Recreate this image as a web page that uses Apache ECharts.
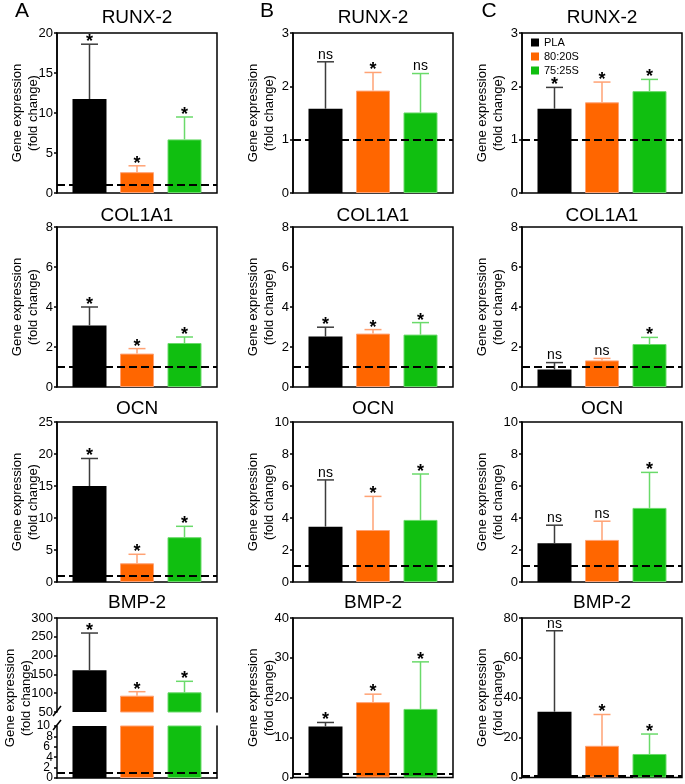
<!DOCTYPE html>
<html>
<head>
<meta charset="utf-8">
<script src="https://cdn.jsdelivr.net/npm/echarts@6/dist/echarts.min.js"></script>
<style>
html, body { margin: 0; padding: 0; background: #fff; }
#chart { width: 685px; height: 784px; }
</style>
</head>
<body>
<div id="chart"></div>
<script>
const groups = ['PLA', '80:20S', '75:25S'];
const barColors = ['#000000', '#ff6600', '#10bf10'];
const errColors = ['#3c3c3c', '#ffa274', '#6ada6a'];
const columnLetters = ['A', 'B', 'C'];

// mean fold change and upper SD, order: PLA, 80:20S, 75:25S
const runx2A = [11.75, 2.6, 6.7];
const runx2ASd = [6.85, 0.8, 2.8];
const runx2B = [1.58, 1.92, 1.51];
const runx2BSd = [0.88, 0.34, 0.73];
const runx2C = [1.58, 1.70, 1.91];
const runx2CSd = [0.40, 0.38, 0.22];

const col1a1A = [3.08, 1.67, 2.2];
const col1a1ASd = [0.92, 0.25, 0.3];
const col1a1B = [2.52, 2.67, 2.62];
const col1a1BSd = [0.47, 0.20, 0.60];
const col1a1C = [0.87, 1.33, 2.15];
const col1a1CSd = [0.35, 0.10, 0.33];

const ocnA = [15.0, 2.92, 7.0];
const ocnASd = [4.3, 1.41, 1.7];
const ocnB = [3.46, 3.25, 3.88];
const ocnBSd = [2.92, 2.10, 2.87];
const ocnC = [2.42, 2.63, 4.63];
const ocnCSd = [1.13, 1.17, 2.22];

const bmp2A = [160.8, 93.4, 102.3];
const bmp2ASd = [99.2, 10.6, 29.3];
const bmp2B = [12.8, 18.9, 17.2];
const bmp2BSd = [1.0, 2.0, 11.8];
const bmp2C = [33.0, 15.9, 11.8];
const bmp2CSd = [40.6, 15.7, 10.0];

// significance marks
const allStar = ['*', '*', '*'];
const runx2BSig = ['ns', '*', 'ns'];
const col1a1CSig = ['ns', 'ns', '*'];
const ocnBSig = ['ns', '*', '*'];
const ocnCSig = ['ns', 'ns', '*'];
const bmp2CSig = ['ns', '*', '*'];

// y axis [min, max, interval]
const runx2AAxis = [0, 20, 5];
const runx2Axis = [0, 3, 1];
const col1a1Axis = [0, 8, 2];
const ocnAAxis = [0, 25, 5];
const ocnAxis = [0, 10, 2];
const bmp2AUpperAxis = [50, 300, 50];
const bmp2ALowerAxis = [0, 10, 2];
const bmp2BAxis = [0, 40, 10];
const bmp2CAxis = [0, 80, 20];
// tick labels of the squeezed lower segment, split in two sets so none overlap
const bmp2ALowerTicksA = [0, 4, 8];
const bmp2ALowerTicksB = [2, 6, 10];

const baseline = 1;
const yName = 'Gene expression\n(fold change)';

const panels = [
    {gene: 'RUNX-2', row: 0, col: 0, mean: runx2A, sd: runx2ASd, sig: allStar, axis: runx2AAxis},
    {gene: 'RUNX-2', row: 0, col: 1, mean: runx2B, sd: runx2BSd, sig: runx2BSig, axis: runx2Axis},
    {gene: 'RUNX-2', row: 0, col: 2, mean: runx2C, sd: runx2CSd, sig: allStar, axis: runx2Axis},
    {gene: 'COL1A1', row: 1, col: 0, mean: col1a1A, sd: col1a1ASd, sig: allStar, axis: col1a1Axis},
    {gene: 'COL1A1', row: 1, col: 1, mean: col1a1B, sd: col1a1BSd, sig: allStar, axis: col1a1Axis},
    {gene: 'COL1A1', row: 1, col: 2, mean: col1a1C, sd: col1a1CSd, sig: col1a1CSig, axis: col1a1Axis},
    {gene: 'OCN', row: 2, col: 0, mean: ocnA, sd: ocnASd, sig: allStar, axis: ocnAAxis},
    {gene: 'OCN', row: 2, col: 1, mean: ocnB, sd: ocnBSd, sig: ocnBSig, axis: ocnAxis},
    {gene: 'OCN', row: 2, col: 2, mean: ocnC, sd: ocnCSd, sig: ocnCSig, axis: ocnAxis},
    {gene: 'BMP-2', row: 3, col: 0, mean: bmp2A, sd: bmp2ASd, sig: allStar, axis: bmp2AUpperAxis, lower: bmp2ALowerAxis},
    {gene: 'BMP-2', row: 3, col: 1, mean: bmp2B, sd: bmp2BSd, sig: allStar, axis: bmp2BAxis},
    {gene: 'BMP-2', row: 3, col: 2, mean: bmp2C, sd: bmp2CSd, sig: bmp2CSig, axis: bmp2CAxis}
];

const font = 'Liberation Sans, Arial, Helvetica, sans-serif';
const colLeft = [57, 293, 522];
const rowTop = [33, 227, 422, 618];
const titleTop = [8, 206, 399, 593];
const plotW = 160, plotH = 160;
const xMin = 0.316, xMax = 3.684;

let option = {
    animation: false,
    textStyle: {fontFamily: font},
    title: [],
    grid: [],
    xAxis: [],
    yAxis: [],
    series: [],
    graphic: [],
    legend: {
        data: groups,
        orient: 'vertical',
        left: 531,
        top: 37,
        padding: 0,
        itemWidth: 8,
        itemHeight: 8,
        itemGap: 3,
        icon: 'rect',
        selectedMode: false,
        itemStyle: {borderWidth: 0},
        textStyle: {fontSize: 11, color: '#000', fontFamily: font}
    }
};

function makeErrRender(sig) {
    return function (params, api) {
        const k = params.dataIndex;
        const x = api.value(0);
        const m = api.value(1);
        const s = api.value(2);
        const p0 = api.coord([x, m]);
        const p1 = api.coord([x, m + s]);
        const st = {stroke: errColors[k], lineWidth: 1.5};
        const isStar = sig[k] === '*';
        return {
            type: 'group',
            children: [
                {type: 'line', shape: {x1: p0[0], y1: p0[1], x2: p1[0], y2: p1[1]}, style: st},
                {type: 'line', shape: {x1: p1[0] - 8.5, y1: p1[1], x2: p1[0] + 8.5, y2: p1[1]}, style: st},
                {
                    type: 'text',
                    x: p1[0],
                    y: p1[1] + (isStar ? 7 : 0),
                    style: {
                        text: sig[k],
                        align: 'center',
                        verticalAlign: 'bottom',
                        font: (isStar ? 'bold 18px ' : '14px ') + font,
                        fill: '#000'
                    }
                }
            ]
        };
    };
}

function addAxes(rect, axis, opts) {
    const gi = option.grid.length;
    option.grid.push({
        left: rect.x, top: rect.y, width: rect.w, height: rect.h,
        show: opts.border, borderColor: '#000', borderWidth: 1.5,
        backgroundColor: 'transparent'
    });
    const xi = option.xAxis.length;
    option.xAxis.push({gridIndex: gi, type: 'value', min: xMin, max: xMax, show: false});
    const yi = option.yAxis.length;
    let label = {
        margin: 4,
        fontSize: 13,
        color: '#000',
        showMinLabel: true,
        showMaxLabel: true,
        hideOverlap: false
    };
    if (opts.ticks) {
        label.fontSize = 12;
        label.customValues = opts.ticks;
    }
    option.yAxis.push({
        gridIndex: gi,
        type: 'value',
        min: axis[0],
        max: axis[1],
        interval: axis[2],
        axisLine: {show: true, lineStyle: {color: '#000', width: 1.5}},
        axisTick: {show: true, length: 3, lineStyle: {color: '#000', width: 1.5}},
        axisLabel: label,
        splitLine: {show: false},
        name: opts.name ? yName : '',
        nameLocation: 'middle',
        nameGap: 16,
        nameMoveOverlap: false,
        nameTextStyle: {fontSize: 13, lineHeight: 16, color: '#000'}
    });
    return {gi, xi, yi};
}

function addBars(ax, mean, withLine) {
    groups.forEach((g, k) => {
        let s = {
            type: 'bar',
            name: g,
            xAxisIndex: ax.xi,
            yAxisIndex: ax.yi,
            data: [[k + 1, mean[k]]],
            barWidth: 34,
            barGap: '-100%',
            clip: true,
            silent: true,
            itemStyle: {color: barColors[k], borderColor: errColors[k], borderWidth: k === 0 ? 0 : 1}
        };
        if (k === 0 && withLine) {
            s.markLine = {
                silent: true,
                symbol: 'none',
                label: {show: false},
                lineStyle: {type: [8, 4], width: 2, color: '#000'},
                data: [{yAxis: baseline}]
            };
        }
        option.series.push(s);
    });
}

function addErrors(ax, mean, sd, sig) {
    option.series.push({
        type: 'custom',
        xAxisIndex: ax.xi,
        yAxisIndex: ax.yi,
        silent: true,
        z: 3,
        data: mean.map((m, k) => [k + 1, m, sd[k]]),
        renderItem: makeErrRender(sig)
    });
}

function frameAxis(ax, axis, pos) {
    if (pos === 'top' || pos === 'bottom') {
        option.xAxis.push({
            gridIndex: ax.gi, type: 'value', position: pos, min: xMin, max: xMax,
            axisLine: {show: true, lineStyle: {color: '#000', width: 1.5}},
            axisTick: {show: false}, axisLabel: {show: false}, splitLine: {show: false}
        });
    } else {
        option.yAxis.push({
            gridIndex: ax.gi, type: 'value', position: pos, min: axis[0], max: axis[1],
            axisLine: {show: true, lineStyle: {color: '#000', width: 1.5}},
            axisTick: {show: false}, axisLabel: {show: false}, splitLine: {show: false}
        });
    }
}

panels.forEach(p => {
    const x = colLeft[p.col];
    const y = rowTop[p.row];
    option.title.push({
        text: p.gene,
        left: x + plotW / 2,
        top: titleTop[p.row],
        textAlign: 'center',
        padding: 0,
        textStyle: {fontSize: 19, fontWeight: 'normal', color: '#000', fontFamily: font}
    });
    if (!p.lower) {
        const ax = addAxes({x: x, y: y, w: plotW, h: plotH}, p.axis, {border: true, name: true});
        addBars(ax, p.mean, true);
        addErrors(ax, p.mean, p.sd, p.sig);
    } else {
        // broken y axis: upper part 50-300, lower part 0-10
        const up = addAxes({x: x, y: y, w: plotW, h: 94}, p.axis, {border: false, name: false});
        frameAxis(up, p.axis, 'top');
        frameAxis(up, p.axis, 'right');
        addBars(up, p.mean, false);
        addErrors(up, p.mean, p.sd, p.sig);
        const low = addAxes({x: x, y: y + 108, w: plotW, h: 52}, p.lower, {border: false, name: false, ticks: bmp2ALowerTicksA});
        frameAxis(low, p.lower, 'bottom');
        frameAxis(low, p.lower, 'right');
        // second label set for the lower segment
        option.yAxis.push({
            gridIndex: low.gi, type: 'value', position: 'left', min: p.lower[0], max: p.lower[1],
            axisLine: {show: false}, axisTick: {show: false}, splitLine: {show: false},
            axisLabel: {margin: 7, fontSize: 12, color: '#000', customValues: bmp2ALowerTicksB,
                showMinLabel: true, showMaxLabel: true}
        });
        addBars(low, p.mean, true);
        option.graphic.push({
            type: 'text', x: 18, y: y + 80, rotation: Math.PI / 2,
            style: {text: yName, align: 'center', verticalAlign: 'middle', font: '13px ' + font, lineHeight: 16, fill: '#000'}
        });
        option.graphic.push({type: 'line', shape: {x1: x - 4, y1: y + 98, x2: x + 4, y2: y + 88}, style: {stroke: '#000', lineWidth: 1.5}});
        option.graphic.push({type: 'line', shape: {x1: x - 4, y1: y + 112, x2: x + 4, y2: y + 102}, style: {stroke: '#000', lineWidth: 1.5}});
    }
});

columnLetters.forEach((c, i) => {
    option.title.push({
        text: c,
        left: [22, 267, 489][i],
        top: 1,
        textAlign: 'center',
        padding: 0,
        textStyle: {fontSize: 21, fontWeight: 'normal', color: '#000', fontFamily: font}
    });
});

let myChart = echarts.init(document.getElementById('chart'));
myChart.setOption(option);

window.addEventListener('resize', () => {
    myChart.resize();
});
</script>
</body>
</html>
